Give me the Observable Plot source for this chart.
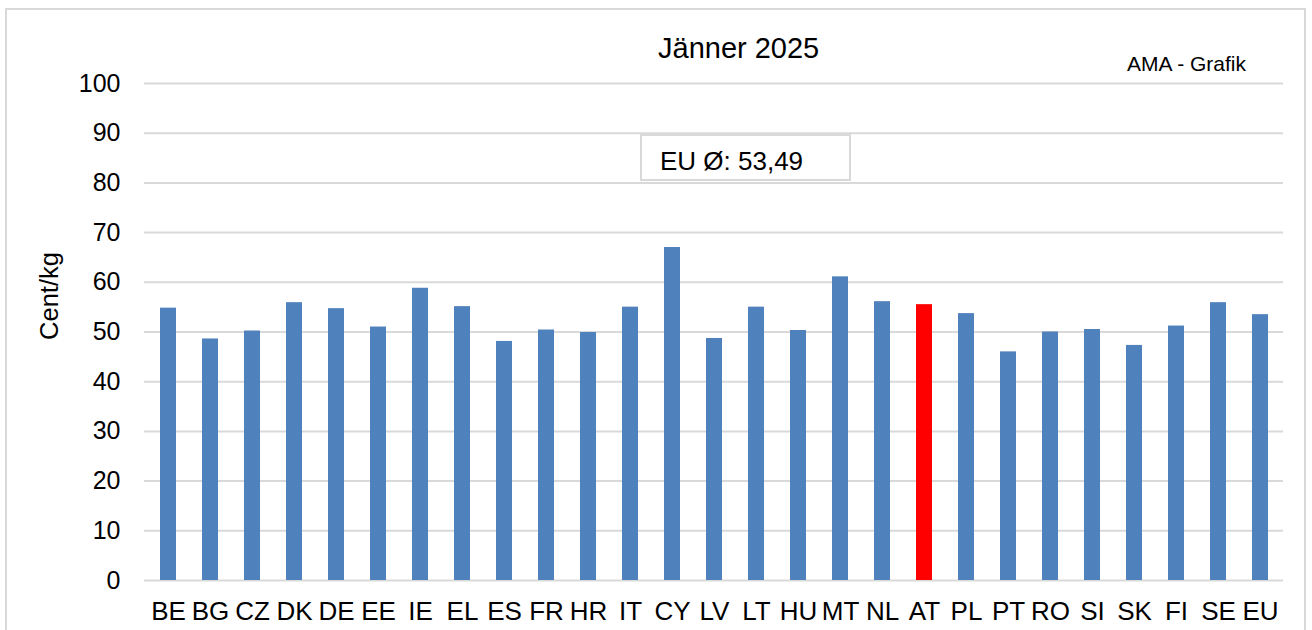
<!DOCTYPE html>
<html>
<head>
<meta charset="utf-8">
<script src="https://cdn.jsdelivr.net/npm/d3@7"></script>
<script src="https://cdn.jsdelivr.net/npm/@observablehq/plot@0.6"></script>
<style>
  html, body { margin: 0; padding: 0; background: #fff; }
  #wrap { position: relative; width: 1312px; height: 630px; overflow: hidden; font-family: "Liberation Sans", Arial, sans-serif; color: #000; }
  #frame { position: absolute; left: 5px; top: 8px; width: 1301px; height: 700px; border: 2px solid #d9d9d9; box-sizing: border-box; }
  #chart { position: absolute; left: 0; top: 0; }
  .ov { position: absolute; line-height: 1; white-space: nowrap; }
  #title { left: 658px; top: 34px; font-size: 29px; }
  #credit { left: 1127px; top: 53px; font-size: 21px; }
  #avgbox { left: 640px; top: 134px; width: 211px; height: 47px; border: 2px solid #d9d9d9; box-sizing: border-box; background: #fff; }
  #avgtxt { left: 660px; top: 148px; font-size: 26px; }
  #ylab { left: 50px; top: 296px; font-size: 25.5px; transform: translate(-50%, -50%) rotate(-90deg); }
</style>
</head>
<body>
<div id="wrap">
  <div id="frame"></div>
  <div id="chart"></div>
  <div id="title" class="ov"></div>
  <div id="credit" class="ov"></div>
  <div id="avgbox" class="ov"></div>
  <div id="avgtxt" class="ov"></div>
  <div id="ylab" class="ov"></div>
</div>
<script>
const titleText = "Jänner 2025";
const creditText = "AMA - Grafik";
const yLabel = "Cent/kg";
const countries = ["BE","BG","CZ","DK","DE","EE","IE","EL","ES","FR","HR","IT","CY","LV","LT","HU","MT","NL","AT","PL","PT","RO","SI","SK","FI","SE","EU"];
const values = [54.8,48.6,50.2,55.9,54.7,51.0,58.8,55.1,48.1,50.4,49.9,55.0,67.0,48.7,55.0,50.3,61.1,56.1,55.5,53.7,46.0,50.0,50.5,47.3,51.2,55.9,53.49];
const yTicks = [0,10,20,30,40,50,60,70,80,90,100];
const highlight = "AT";
const average = "EU";

const data = countries.map((c, i) => ({country: c, value: values[i]}));
const avgValue = values[countries.indexOf(average)];

const chart = Plot.plot({
  width: 1312,
  height: 630,
  marginLeft: 144,
  marginRight: 29,
  marginTop: 83,
  marginBottom: 50,
  style: {fontFamily: '"Liberation Sans", Arial, sans-serif', fontSize: "25px", background: "transparent", color: "#000"},
  x: {domain: countries, paddingInner: 0.63, paddingOuter: 0.315, label: null},
  y: {domain: [0, 100], label: null},
  marks: [
    Plot.gridY(yTicks, {stroke: "#d9d9d9", strokeOpacity: 1, strokeWidth: 2}),
    Plot.barY(data, {x: "country", y: "value", fill: d => d.country === highlight ? "#ff0000" : "#4f81bd"}),
    Plot.axisY(yTicks, {tickSize: 0, tickPadding: 24, fontSize: 25, label: null}),
    Plot.axisX({tickSize: 0, tickPadding: 21.5, fontSize: 26, label: null})
  ]
});
document.getElementById("chart").appendChild(chart);
document.getElementById("title").textContent = titleText;
document.getElementById("credit").textContent = creditText;
document.getElementById("avgtxt").textContent = `${average} Ø: ${avgValue.toFixed(2).replace(".", ",")}`;
document.getElementById("ylab").textContent = yLabel;
</script>
</body>
</html>
